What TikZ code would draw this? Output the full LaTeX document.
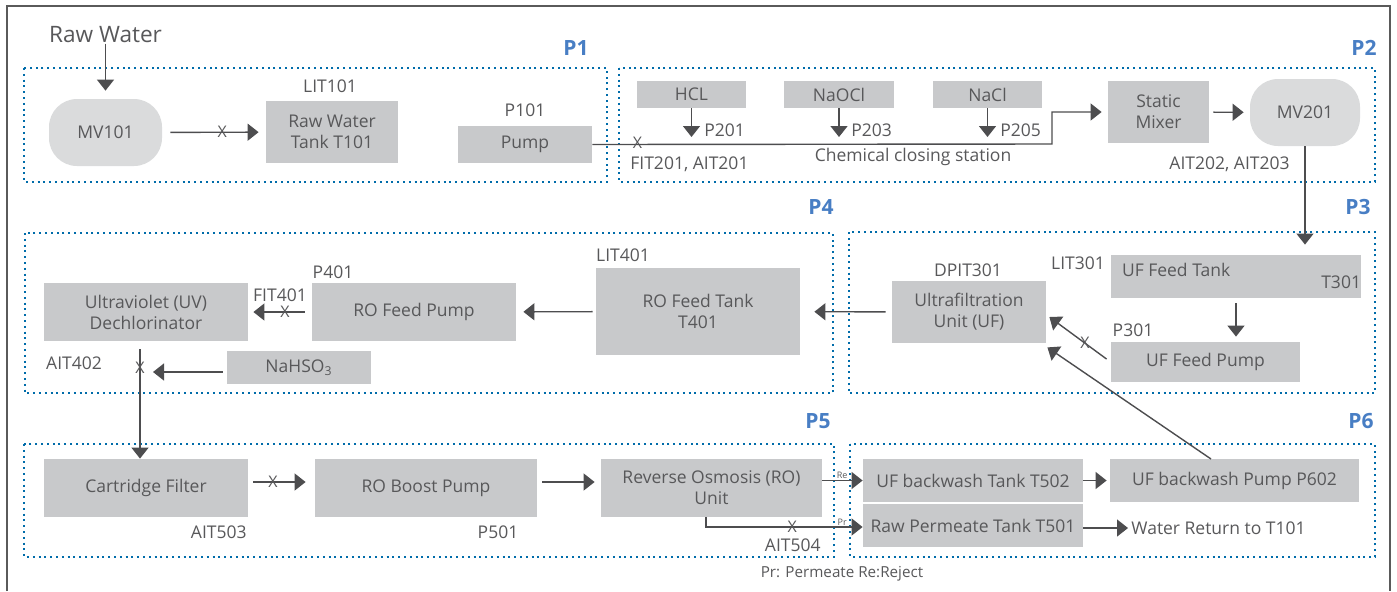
\documentclass[tikz,border=0pt]{standalone}
\usepackage{fontspec}
\setmainfont{Open Sans}
\usetikzlibrary{positioning,arrows.meta,calc}
\definecolor{boxgray}{RGB}{200,201,203}
\definecolor{valvegray}{RGB}{218,219,220}
\definecolor{txtgray}{RGB}{88,88,90}
\definecolor{linegray}{RGB}{77,77,79}
\definecolor{framegray}{RGB}{90,90,90}
\definecolor{panelblue}{RGB}{0,108,170}
\definecolor{tagblue}{RGB}{72,126,196}

\begin{document}
\begin{tikzpicture}[x=0.5pt,y=-0.5pt,>={Triangle[length=5.5pt,width=8.5pt]},
   unit/.style 2 args={fill=boxgray,text=txtgray,align=center,inner sep=0pt,
      font=\fontsize{8.75}{10.5}\selectfont,
      minimum width=#1*0.5pt,minimum height=#2*0.5pt},
   valve/.style 2 args={unit={#1}{#2},fill=valvegray,rounded corners=14pt},
   tag/.style={text=txtgray,inner sep=0pt,font=\fontsize{8.75}{10.5}\selectfont},
   xmark/.style={text=txtgray,inner sep=0pt,font=\fontsize{8}{9}\selectfont},
   tiny/.style={text=txtgray,inner sep=0pt,font=\fontsize{4.5}{5}\selectfont},
   panel/.style={draw=panelblue,line width=1pt,dash pattern=on 1pt off 1.9pt},
   plabel/.style={text=tagblue,inner sep=0pt,font=\fontsize{10.5}{12}\selectfont\bfseries},
   flow/.style={draw=linegray,line width=0.7pt}]
   \useasboundingbox (0,0) rectangle (1397,591);
   \draw[framegray,line width=0.9pt] (7,591) -- (7,6) -- (1390,6) -- (1390,591);

   % process stages
   \draw[panel] (24,68) rectangle (607,182);
   \draw[panel] (619,68) rectangle (1375,182);
   \draw[panel] (25,233) rectangle (833,393);
   \draw[panel] (849,232) rectangle (1375,393);
   \draw[panel] (24,444) rectangle (834,557);
   \draw[panel] (850,444) rectangle (1375,557);
   \node[plabel] (s1) at (576,48) {P1};
   \node[plabel] (s2) at (1364,48) {P2};
   \node[plabel] (s4) at (821,207) {P4};
   \node[plabel] (s3) at (1358,207) {P3};
   \node[plabel] (s5) at (818,421) {P5};
   \node[plabel] (s6) at (1361,421) {P6};

   % P1
   \node[tag,font=\fontsize{11.3}{13}\selectfont] (rawwater) at (105.5,35) {Raw Water};
   \node[valve={113}{67}] (mv101) at (105.5,132.5) {MV101};
   \node[unit={132}{62}] (t101) at (332,132) {Raw Water\\Tank T101};
   \node[unit={134}{37}] (pump101) at (525,144.5) {Pump};
   \node[tag] (lit101) at (330,86) {LIT101};
   \node[tag] (p101) at (525,110) {P101};

   % P2
   \node[unit={109}{27}] (hcl) at (691.5,94.5) {HCL};
   \node[unit={110}{27}] (naocl) at (839,94.5) {NaOCl};
   \node[unit={109}{27}] (nacl) at (987.5,94.5) {NaCl};
   \node[unit={101}{62}] (mixer) at (1158.5,112) {Static\\Mixer};
   \node[valve={110}{67}] (mv201) at (1305,112.5) {MV201};
   \node[tag,anchor=west] (p201) at (704,130) {P201};
   \node[tag,anchor=west] (p203) at (851,130) {P203};
   \node[tag,anchor=west] (p205) at (1000,130) {P205};
   \node[tag,anchor=west] (fit201) at (630,164) {FIT201, AIT201};
   \node[tag] (chemst) at (913,157) {Chemical closing station};
   \node[tag] (ait202) at (1229.5,164) {AIT202, AIT203};
   \coordinate (bend) at (1052,144);

   % P3
   \node[unit={154}{62}] (ufunit) at (969,312) {Ultrafiltration\\Unit (UF)};
   \node[unit={250}{43},
      label={[tag,anchor=west,yshift=3.5pt]west:\hspace{5.5pt}UF Feed Tank},
      label={[tag,anchor=east,yshift=-3pt]east:T301\hspace{3.5pt}}] (uftank) at (1236,276.5) {};
   \node[unit={189}{40}] (uffeed) at (1205.5,362) {UF Feed Pump};
   \node[tag] (dpit301) at (968,270) {DPIT301};
   \node[tag] (lit301) at (1078,263) {LIT301};
   \node[tag] (p301) at (1133,330) {P301};

   % P4
   \node[unit={204}{87}] (rotank) at (698,311.5) {RO Feed Tank\\T401};
   \node[unit={204}{58}] (rofeed) at (414,312) {RO Feed Pump};
   \node[unit={204}{58}] (uv) at (146,312) {Ultraviolet (UV)\\Dechlorinator};
   \node[unit={144}{33}] (nahso3) at (299,367.5) {NaHSO\textsubscript{3}};
   \node[tag] (lit401) at (623,255) {LIT401};
   \node[tag] (p401) at (333,272) {P401};
   \node[tag] (fit401) at (280,295) {FIT401};
   \node[tag] (ait402) at (74,363) {AIT402};
   \coordinate (uvout) at (140,349);
   \coordinate (dose) at (140,372);

   % P5
   \node[unit={204}{58}] (cartridge) at (146,488) {Cartridge Filter};
   \node[unit={222}{58}] (roboost) at (426,488) {RO Boost Pump};
   \node[unit={221}{58}] (rounit) at (711.5,488) {Reverse Osmosis (RO)\\Unit};
   \node[tag,anchor=east] (ait503) at (247,532) {AIT503};
   \node[tag] (p501) at (498,532) {P501};
   \node[tag,anchor=east] (ait504) at (821,545) {AIT504};
   \coordinate (prbend) at (706,527);

   % P6
   \node[unit={220}{43}] (bwtank) at (973,480.5) {UF backwash Tank T502};
   \node[unit={249}{43}] (bwpump) at (1234.5,480.5) {UF backwash Pump P602};
   \node[unit={220}{43}] (rawperm) at (973,525.5) {Raw Permeate Tank T501};
   \node[tag,anchor=west] (waterret) at (1131,528) {Water Return to T101};
   \coordinate (bwout) at (1211,459);

   \node[tag,font=\fontsize{7.6}{9}\selectfont] (legend) at (842,574) {Pr: Permeate Re:Reject};

   % flows
   \path[->,every edge/.append style={flow}]
    (rawwater) edge[shorten >=4pt] (mv101)
    (mv101) edge[shorten <=4pt,shorten >=3.5pt] node[xmark,pos=0.58] {X} (t101)
    (hcl.south) edge[shorten >=3.5pt] (hcl.south |- bend)
    (naocl.south) edge[shorten >=3.5pt] (naocl.south |- bend)
    (nacl.south) edge[shorten >=3.5pt] (nacl.south |- bend)
    (mixer) edge[shorten <=2pt,shorten >=3pt] (mv201)
    (mv201.south) edge[shorten >=5pt] (mv201.south |- uftank.north)
    (uftank.south) edge[shorten <=2.5pt,shorten >=2.5pt] (uftank.south |- uffeed.north)
    (uffeed.west) edge[shorten <=2.5pt] node[xmark,pos=0.42] {X} ($(ufunit.east)+(3,5)$)
    (bwout) edge ($(ufunit.south east)+(1,4)$)
    (ufunit) edge[shorten <=3pt,shorten >=7pt] (rotank)
    (rotank) edge[shorten <=1.5pt,shorten >=3.5pt] (rofeed)
    (rofeed) edge[shorten <=3.5pt,shorten >=2.5pt] node[xmark,pos=0.42] {X} (uv)
    (uvout) edge node[xmark,pos=0.17] {X} (uvout |- cartridge.north)
    (nahso3.west |- dose) edge[shorten <=2pt,shorten >=6.5pt] (dose)
    ([yshift=3pt]cartridge.east) edge[shorten <=2.5pt,shorten >=4.5pt] node[xmark,pos=0.37] {X} ([yshift=3pt]roboost.west)
    ([yshift=3pt]roboost.east) edge[shorten <=2.5pt,shorten >=3pt] ([yshift=3pt]rounit.west)
    (rounit.east |- bwtank) edge node[tiny,pos=0.49,anchor=south,yshift=0.5pt] {Re} (bwtank.west)
    (bwtank) edge[shorten >=1.5pt] (bwpump)
    (rawperm.east |- waterret) edge[shorten >=1.5pt] (waterret.west);
   \draw[flow,->,shorten >=3pt] (pump101.east) -- node[xmark,pos=0.098,yshift=1pt] {X} (bend) |- (mixer.west);
   \draw[flow,->] (rounit.south -| prbend) -- (prbend) -- node[xmark,pos=0.55] {X} node[tiny,pos=0.87,anchor=south,yshift=0.5pt] {Pr} (prbend -| rawperm.west);
\end{tikzpicture}
\end{document}
